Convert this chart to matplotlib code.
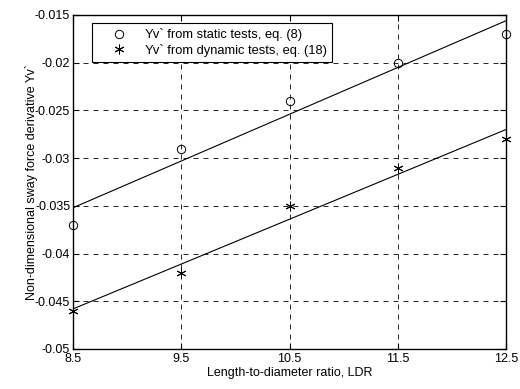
import numpy as np
import matplotlib
matplotlib.use("Agg")
import matplotlib.pyplot as plt

ldr = [8.5, 9.5, 10.5, 11.5, 12.5]
yv_static = [-0.037, -0.029, -0.024, -0.020, -0.017]
yv_dynamic = [-0.046, -0.042, -0.035, -0.031, -0.028]
xticks = [8.5, 9.5, 10.5, 11.5, 12.5]
yticks = [-0.05, -0.045, -0.04, -0.035, -0.03, -0.025, -0.02, -0.015]
ytick_labels = ["-0.05", "-0.045", "-0.04", "-0.035", "-0.03", "-0.025", "-0.02", "-0.015"]

plt.rcParams['font.family'] = ['Liberation Sans', 'DejaVu Sans']
plt.rcParams['font.size'] = 9

fig = plt.figure(figsize=(5.2, 3.89), dpi=100)
ax = fig.add_axes([73/520, 1 - 349/389, (506-73)/520, (349-15)/389])

x = np.array(ldr)
ps = np.polyfit(x, yv_static, 1)
pd_ = np.polyfit(x, yv_dynamic, 1)
ax.plot(x, np.polyval(ps, x), color='black', lw=0.8)
ax.plot(x, np.polyval(pd_, x), color='black', lw=0.8)

ax.plot(ldr, yv_static, linestyle='none', marker='o', mfc='none', mec='black',
        ms=6, mew=0.7, label="Yv` from static tests, eq. (8)", clip_on=False, zorder=5)
ax.plot(ldr, yv_dynamic, linestyle='none', marker=(6, 2, 0), color='black',
        ms=7, mew=0.7, label="Yv` from dynamic tests, eq. (18)", clip_on=False, zorder=5)

ax.set_xlim(8.5, 12.5)
ax.set_ylim(-0.05, -0.015)
ax.set_xticks(xticks)
ax.set_xticklabels([str(v) for v in xticks])
ax.set_yticks(yticks)
ax.set_yticklabels(ytick_labels)
ax.grid(True, color='black', linestyle=(0, (6, 6)), linewidth=0.6)
ax.tick_params(direction='in', top=True, right=True, length=4, width=0.8, labelsize=9)
ax.tick_params(axis='x', pad=3)
ax.tick_params(axis='y', pad=2)
for lbl in ax.get_yticklabels():
    lbl.set_verticalalignment('center_baseline')
for s in ax.spines.values():
    s.set_linewidth(1.0)

ax.set_xlabel("Length-to-diameter ratio, LDR", fontsize=9, labelpad=1)
ax.set_ylabel("Non-dimensional sway force derivative Yv`", fontsize=9, labelpad=-2)

leg = ax.legend(loc='upper left', bbox_to_anchor=((92-73)/433, (349-23)/334),
                frameon=True, fancybox=False, edgecolor='black', framealpha=1,
                borderaxespad=0, handlelength=3.4, handletextpad=0.3, borderpad=0.4,
                labelspacing=0.2, prop={'size': 9.3})
leg.get_frame().set_linewidth(0.8)

fig.savefig("out.png", dpi=100)
